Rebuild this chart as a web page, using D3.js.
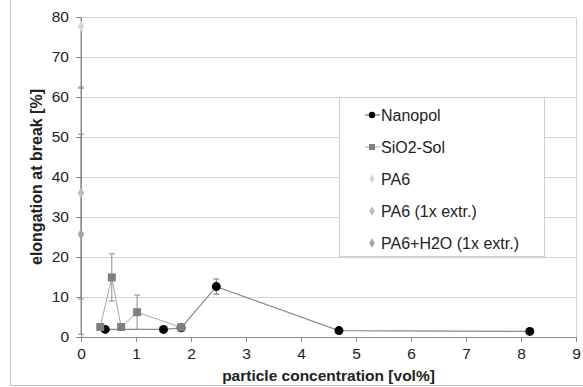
<!DOCTYPE html>
<html lang="en">
<head>
<meta charset="UTF-8">
<title>Elongation at break</title>
<script src="https://cdnjs.cloudflare.com/ajax/libs/d3/7.8.5/d3.min.js"></script>
<style>
    body { margin: 0; background: #fff; }
    svg { font-family: "Liberation Sans", Arial, sans-serif; }
</style>
</head>
<body>
<svg width="583" height="387"></svg>
<script>
// data
const nanopolX = [0.44, 1.50, 1.82, 2.46, 4.69, 8.16];
const nanopolY = [1.9, 1.9, 2.3, 12.6, 1.6, 1.4];
const nanopolErr = [0.3, 0.3, 0.3, 1.9, 0.3, 0.3];

const sio2X = [0.35, 0.56, 0.73, 1.02, 1.82];
const sio2Y = [2.5, 14.9, 2.5, 6.2, 2.4];
const sio2Err = [0.3, 5.9, 0.3, 4.3, 0.3];

const pa6Names = ["PA6", "PA6 (1x extr.)", "PA6+H2O (1x extr.)"];
const pa6Y = [77.7, 36.0, 25.7];
const pa6Err = [15.5, 26.5, 25.0];
const pa6Colors = ["#d6d6d6", "#bdbdbd", "#a3a3a3"];

const xTicks = [0, 1, 2, 3, 4, 5, 6, 7, 8, 9];
const yTicks = [0, 10, 20, 30, 40, 50, 60, 70, 80];

const svg = d3.select("svg");
const margin = {top: 17, right: 7, bottom: 50, left: 81};
const width = 583 - margin.left - margin.right;
const height = 387 - margin.top - margin.bottom;

// outer chart frame
svg.append("rect")
    .attr("x", 10.5).attr("y", -5)
    .attr("width", 600).attr("height", 390.5)
    .attr("fill", "none").attr("stroke", "#c4c4c4");

const g = svg.append("g").attr("transform", `translate(${margin.left},${margin.top})`);

const x = d3.scaleLinear().domain([0, 9]).range([0, width]);
const y = d3.scaleLinear().domain([0, 80]).range([height, 0]);

// gridlines
g.append("g").selectAll("line")
    .data(yTicks.filter(d => d > 0))
    .enter().append("line")
    .attr("x1", 0).attr("x2", width)
    .attr("y1", d => Math.round(y(d)) + 0.5).attr("y2", d => Math.round(y(d)) + 0.5)
    .attr("stroke", "#d4d4d4");
g.append("line")
    .attr("x1", width + 0.5).attr("x2", width + 0.5)
    .attr("y1", 0).attr("y2", height)
    .attr("stroke", "#d4d4d4");

const xAxis = g.append("g")
    .attr("transform", `translate(0,${height})`)
    .call(d3.axisBottom(x).tickValues(xTicks).tickSize(5).tickPadding(6).tickFormat(d3.format("d")));
const yAxis = g.append("g")
    .call(d3.axisLeft(y).tickValues(yTicks).tickSize(5).tickPadding(7).tickFormat(d3.format("d")));
[xAxis, yAxis].forEach(a => {
    a.select(".domain").attr("stroke", "#8c8c8c");
    a.selectAll(".tick line").attr("stroke", "#8c8c8c");
    a.selectAll(".tick text").attr("fill", "#222").style("font-size", "15.5px");
});

// error bars helper
function errBars(xs, ys, es, color) {
    const eb = g.append("g").attr("stroke", color).attr("stroke-width", 1);
    ys.forEach((v, i) => {
        const top = Math.min(v + es[i], 80);
        const px = x(xs[i]);
        eb.append("line").attr("x1", px).attr("x2", px).attr("y1", y(top)).attr("y2", y(v - es[i]));
        if (v + es[i] <= 80) eb.append("line").attr("x1", px - 3).attr("x2", px + 3).attr("y1", y(v + es[i])).attr("y2", y(v + es[i]));
        eb.append("line").attr("x1", px - 3).attr("x2", px + 3).attr("y1", y(v - es[i])).attr("y2", y(v - es[i]));
    });
}

const line = d3.line().x(d => x(d[0])).y(d => y(d[1]));

// PA6 series at x = 0
pa6Y.forEach((v, i) => errBars([0], [v], [pa6Err[i]], "#8c8c8c"));
const diamond = d3.symbol().type(d3.symbolDiamond).size(36);
pa6Y.forEach((v, i) => {
    g.append("path").attr("d", diamond)
        .attr("transform", `translate(${x(0)},${y(v)})`)
        .attr("fill", pa6Colors[i]);
});

// Nanopol
const nano = nanopolX.map((d, i) => [d, nanopolY[i]]);
g.append("path").datum(nano).attr("d", line)
    .attr("fill", "none").attr("stroke", "#8a8a8a").attr("stroke-width", 1.2);
errBars(nanopolX, nanopolY, nanopolErr, "#777");
g.selectAll(".nano").data(nano).enter().append("circle")
    .attr("cx", d => x(d[0])).attr("cy", d => y(d[1])).attr("r", 4.5).attr("fill", "#000");

// SiO2-Sol
const sio2 = sio2X.map((d, i) => [d, sio2Y[i]]);
g.append("path").datum(sio2).attr("d", line)
    .attr("fill", "none").attr("stroke", "#a8a8a8").attr("stroke-width", 1);
errBars(sio2X, sio2Y, sio2Err, "#8c8c8c");
g.selectAll(".sio2").data(sio2).enter().append("rect")
    .attr("x", d => x(d[0]) - 4).attr("y", d => y(d[1]) - 4)
    .attr("width", 8).attr("height", 8).attr("fill", "#7f7f7f");

// axis titles
svg.append("text")
    .attr("x", margin.left + width / 2).attr("y", 381)
    .attr("text-anchor", "middle")
    .style("font-size", "15.5px").style("font-weight", "bold").attr("fill", "#222")
    .text("particle concentration [vol%]");
svg.append("text")
    .attr("transform", `translate(42,${margin.top + height / 2}) rotate(-90)`)
    .attr("text-anchor", "middle")
    .style("font-size", "16px").style("font-weight", "bold").attr("fill", "#222")
    .text("elongation at break [%]");

// legend
const leg = svg.append("g");
leg.append("rect")
    .attr("x", 339.5).attr("y", 97.5).attr("width", 205).attr("height", 159)
    .attr("fill", "#fff").attr("stroke", "#cfcfcf");
const legItems = ["Nanopol", "SiO2-Sol"].concat(pa6Names);
legItems.forEach((name, i) => {
    const cy = 115 + i * 32;
    const row = leg.append("g");
    if (i < 2) {
        row.append("line").attr("x1", 365).attr("x2", 380).attr("y1", cy).attr("y2", cy)
            .attr("stroke", i === 0 ? "#555" : "#a8a8a8");
    }
    if (i === 0) {
        row.append("circle").attr("cx", 372).attr("cy", cy).attr("r", 3.2).attr("fill", "#000");
    } else if (i === 1) {
        row.append("rect").attr("x", 369).attr("y", cy - 3).attr("width", 6).attr("height", 6).attr("fill", "#7f7f7f");
    } else {
        row.append("path").attr("d", d3.symbol().type(d3.symbolDiamond).size(26))
            .attr("transform", `translate(372,${cy})`).attr("fill", pa6Colors[i - 2]);
    }
    row.append("text").attr("x", 381).attr("y", cy + 5.5)
        .style("font-size", "16px").attr("fill", "#222").text(name);
});
</script>
</body>
</html>
